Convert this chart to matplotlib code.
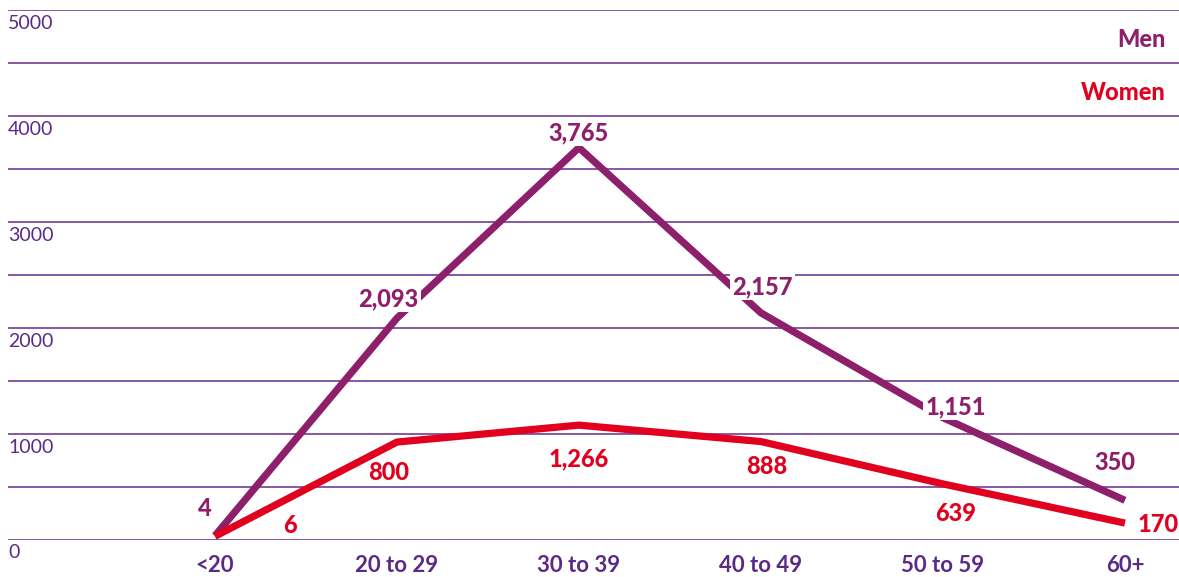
import numpy as np
import matplotlib
matplotlib.use("Agg")
import matplotlib.pyplot as plt
import matplotlib.transforms as mtransforms

# Data (line heights, label texts as printed)
age_groups = ["<20", "20 to 29", "30 to 39", "40 to 49", "50 to 59", "60+"]
men = [35, 2090, 3700, 2140, 1150, 370]
women = [30, 920, 1080, 925, 525, 155]
men_labels = ["4", "2,093", "3,765", "2,157", "1,151", "350"]
women_labels = ["6", "800", "1,266", "888", "639", "170"]

men_color = "#8e1f6b"
women_color = "#e2001f"
axis_color = "#5b2a86"
grid_color = "#7c4c9c"

plt.rcParams["font.family"] = ["Lato", "DejaVu Sans"]

fig = plt.figure(figsize=(11.79, 5.77), dpi=100)
ax = fig.add_axes([8 / 1179, 37.5 / 577, 1171 / 1179, 529.5 / 577])

x = np.arange(len(age_groups))
ax.plot(x, men, color=men_color, lw=5.2, solid_capstyle="butt", solid_joinstyle="miter", zorder=3)
ax.plot(x, women, color=women_color, lw=5.2, solid_capstyle="butt", solid_joinstyle="miter", zorder=3)

ax.set_xlim(-1.137, 5.297)
ax.set_ylim(0, 5000)

# gridlines every 500, labels every 1000
ax.set_yticks(np.arange(0, 5001, 1000))
ax.set_yticks(np.arange(0, 5001, 500), minor=True)
ax.grid(axis="y", which="both", color=grid_color, lw=1.3)
ax.set_axisbelow(True)
ax.tick_params(axis="y", which="both", length=0, pad=0, labelsize=14, labelcolor=axis_color)
offset = mtransforms.ScaledTranslation(0, -5 / 100, fig.dpi_scale_trans)
for lbl in ax.get_yticklabels():
    lbl.set_ha("left")
    lbl.set_va("top")
    lbl.set_transform(lbl.get_transform() + offset)

ax.set_xticks(x)
ax.set_xticklabels(age_groups, fontsize=16, fontweight="bold", color=axis_color)
ax.tick_params(axis="x", length=0, pad=11)

for s in ax.spines.values():
    s.set_visible(False)

# value labels (offsets in points from each point)
men_off = [(-7, 20), (-6, 14), (0, 11), (1, 19), (9, 8), (-7, 27)]
women_off = [(54, 8), (-6, -22), (0, -24), (4, -18), (9, -21), (24, -1)]
box = dict(facecolor="white", edgecolor="none", pad=1.5)
for i in range(len(x)):
    ax.annotate(men_labels[i], (x[i], men[i]), xytext=men_off[i], textcoords="offset points",
                ha="center", va="center", fontsize=17, fontweight="black", color=men_color,
                bbox=box if i in (1, 2, 3, 4) else None, zorder=4)
    ax.annotate(women_labels[i], (x[i], women[i]), xytext=women_off[i], textcoords="offset points",
                ha="center", va="center", fontsize=17, fontweight="black", color=women_color, zorder=4)

# legend as text on the right
ax.text(0.989, 0.945, "Men", transform=ax.transAxes, ha="right", va="center",
        fontsize=17, fontweight="black", color=men_color)
ax.text(0.989, 0.845, "Women", transform=ax.transAxes, ha="right", va="center",
        fontsize=17, fontweight="black", color=women_color)

fig.savefig("out.png", dpi=100)
